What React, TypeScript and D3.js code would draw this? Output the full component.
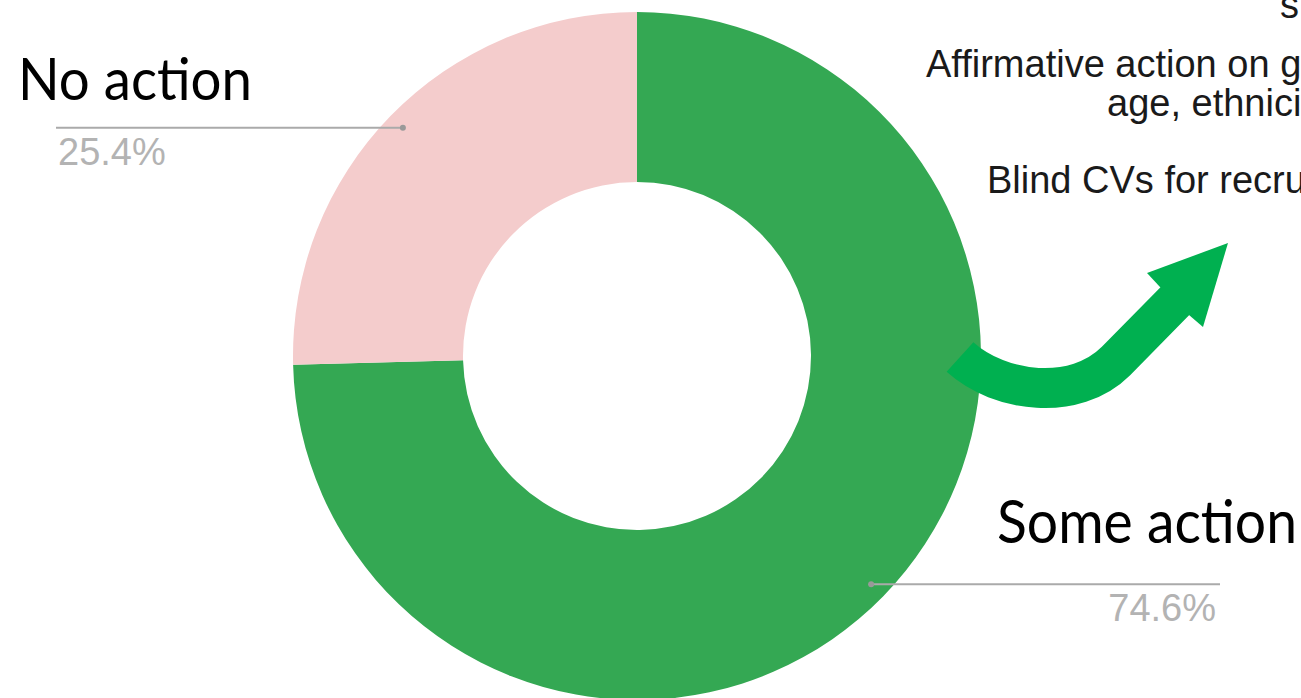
import React from "react";
import * as d3 from "d3";

const categories = ["Some action", "No action"];
const values = [74.6, 25.4];
const sliceColors = ["#34a853", "#f4cccc"];
const percentLabels = ["74.6%", "25.4%"];
const actionLines = [
  { text: "strategy", x: 1280, y: 18 },
  { text: "Affirmative action on gender,", x: 926, y: 77 },
  { text: "age, ethnicity", x: 1107, y: 116 },
  { text: "Blind CVs for recruitment", x: 987, y: 193 },
];

const W = 1301;
const H = 698;

export default function App() {
  const cx = 637;
  const cy = 356;
  const outerR = 344;
  const innerR = 174;
  const pie = d3.pie<number>().sort(null).value((d) => d)(values);
  const arc = d3.arc<d3.PieArcDatum<number>>().innerRadius(innerR).outerRadius(outerR);
  const dotR = 327;

  const labelInfo = pie.map((p, i) => {
    const mid = (p.startAngle + p.endAngle) / 2;
    const dx = Math.sin(mid) * dotR;
    const dy = -Math.cos(mid) * dotR;
    const right = dx > 0;
    return {
      dot: [cx + dx, cy + dy],
      endX: right ? 1220 : 56,
      right,
      pct: percentLabels[i],
      cat: categories[i],
    };
  });

  const arrowPath = "M 960 357 C 1000 393, 1075 402, 1116 361 L 1176 300";

  return (
    <svg
      width={W}
      height={H}
      style={{ position: "fixed", left: 0, top: 0, background: "#fff" }}
    >
      <rect x={0} y={0} width={W} height={H} fill="#fff" />
      <g transform={`translate(${cx},${cy})`}>
        {pie.map((p, i) => (
          <path key={i} d={arc(p) || ""} fill={sliceColors[i]} />
        ))}
      </g>
      {labelInfo.map((l, i) => (
        <g key={i}>
          <line
            x1={l.dot[0]}
            y1={l.dot[1]}
            x2={l.endX}
            y2={l.dot[1]}
            stroke="#aaaaaa"
            strokeWidth={2}
          />
          <circle cx={l.dot[0]} cy={l.dot[1]} r={3} fill="#999" />
          <text
            x={l.endX + (l.right ? -4 : 2)}
            y={l.dot[1] + 37}
            textAnchor={l.right ? "end" : "start"}
            fontFamily="'Liberation Sans', Arial, sans-serif"
            fontSize={38}
            fill="#b3b3b3"
          >
            {l.pct}
          </text>
        </g>
      ))}
      <text
        x={18}
        y={100}
        fontFamily="Lato, 'Open Sans', sans-serif"
        fontSize={58}
        textLength={234}
        lengthAdjust="spacingAndGlyphs"
        fill="#000"
      >
        {categories[1]}
      </text>
      <text
        x={997}
        y={543}
        fontFamily="Lato, 'Open Sans', sans-serif"
        fontSize={60}
        textLength={300}
        lengthAdjust="spacingAndGlyphs"
        fill="#000"
      >
        {categories[0]}
      </text>
      {actionLines.map((t, i) => (
        <text
          key={i}
          x={t.x}
          y={t.y}
          fontFamily="'Liberation Sans', Arial, sans-serif"
          fontSize={38}
          fill="#1a1a1a"
        >
          {t.text}
        </text>
      ))}
      <path d={arrowPath} fill="none" stroke="#00b050" strokeWidth={40} strokeLinecap="butt" />
      <polygon
        points="1228,243 1147,273 1160,287 1189,315 1203,327"
        fill="#00b050"
      />
    </svg>
  );
}
